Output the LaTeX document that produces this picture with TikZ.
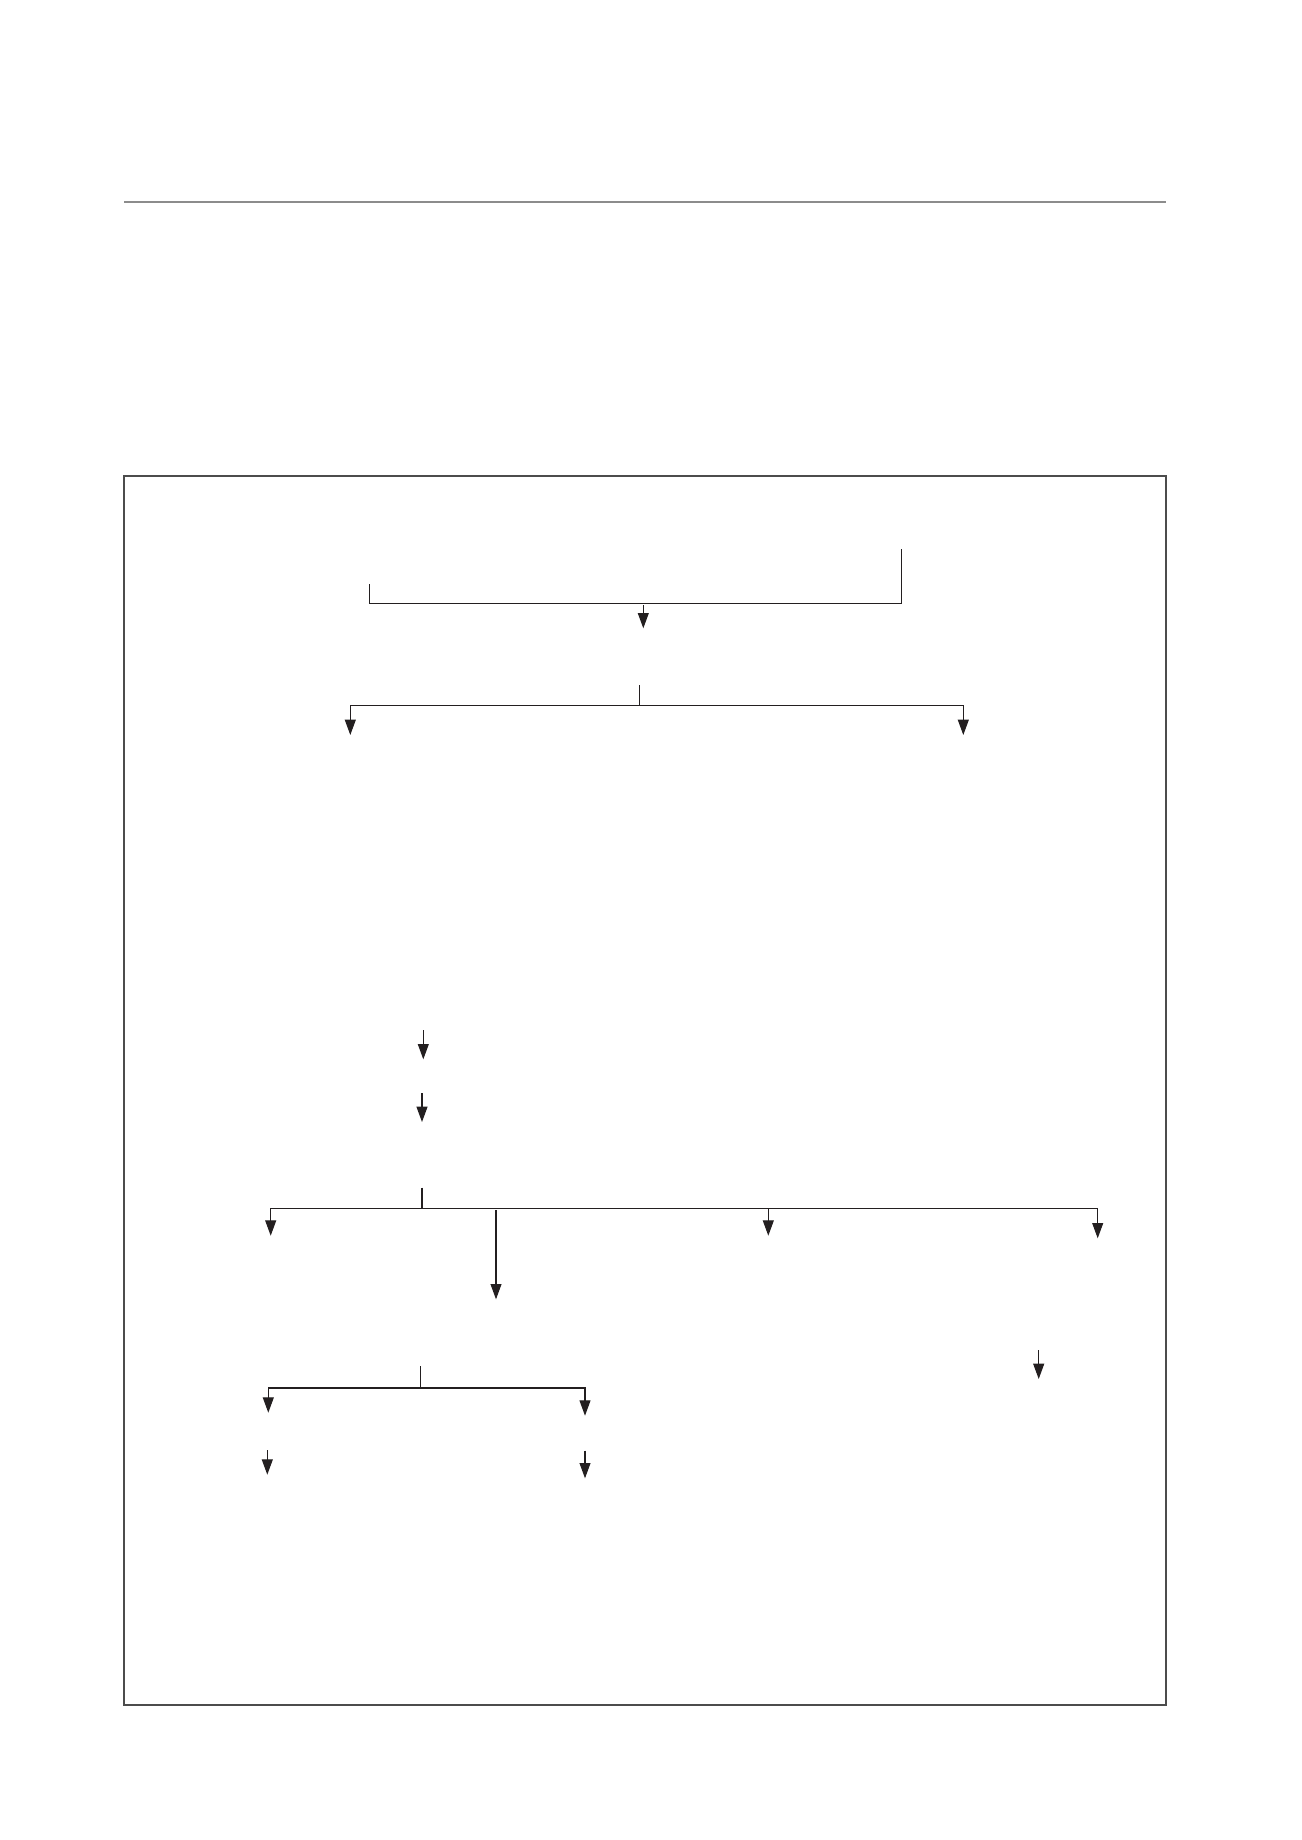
\documentclass[tikz,border=0pt]{standalone}
\usepackage{tikz}
\usetikzlibrary{arrows.meta}
\definecolor{ink}{HTML}{231F20}
\tikzset{
  link/.style={draw=ink, line width=0.5pt},
  flow/.style={link, -{Triangle[length=7pt, width=5pt]}},
}

\begin{document}
\begin{tikzpicture}[x=0.4576pt, y=-0.4576pt]
\useasboundingbox (0,0) rectangle (1301,1840);
\draw[black!45, line width=0.9pt] (124,201.7) -- (1166,201.7);
\draw[black!70, line width=0.9pt] (124,475.7) rectangle (1166,1705.3);

\coordinate (topL) at (369.7,584);
\coordinate (topLb) at (369.7,603.3);
\coordinate (topR) at (901.3,549);
\coordinate (topRb) at (901.3,603.3);
\coordinate (topOut) at (643.3,605.3);
\coordinate (topEnd) at (643.3,628.3);
\draw[link] (topL) -- (topLb) -- (topRb) -- (topR);
\draw[flow] (topOut) -- (topEnd);

\coordinate (splitA) at (639.3,685.3);
\coordinate (splitAb) at (639.3,705.3);
\coordinate (leftA) at (350.3,735);
\coordinate (rightA) at (963.3,735);
\draw[link] (splitA) -- (splitAb);
\draw[flow] (splitAb) -| (leftA);
\draw[flow] (splitAb) -| (rightA);

\coordinate (stepOne) at (423.3,1030);
\coordinate (stepOneb) at (423.3,1059.3);
\coordinate (stepTwo) at (422,1093.3);
\coordinate (stepTwob) at (422,1122);
\draw[flow] (stepOne) -- (stepOneb);
\draw[flow] (stepTwo) -- (stepTwob);

\coordinate (splitB) at (422,1187.7);
\coordinate (splitBb) at (422,1208.3);
\coordinate (outB1) at (270.7,1235.7);
\coordinate (outB3) at (768.3,1235.7);
\coordinate (outB4) at (1097.7,1238.3);
\coordinate (longB) at (496,1210);
\coordinate (longBb) at (496,1299.3);
\draw[link] (splitB) -- (splitBb);
\draw[flow] (splitBb) -| (outB1);
\draw[flow] (splitBb) -| (outB3);
\draw[flow] (splitBb) -| (outB4);
\draw[flow] (longB) -- (longBb);

\coordinate (sideArr) at (1038.7,1350);
\coordinate (sideArrb) at (1038.7,1379);
\draw[flow] (sideArr) -- (sideArrb);

\coordinate (splitC) at (420.7,1366);
\coordinate (splitCb) at (420.7,1388);
\coordinate (outC1) at (268.3,1412.7);
\coordinate (outC2) at (585,1415.7);
\draw[link] (splitC) -- (splitCb);
\draw[flow] (splitCb) -| (outC1);
\draw[flow] (splitCb) -| (outC2);

\coordinate (lastL) at (267.3,1450);
\coordinate (lastLb) at (267.3,1474.7);
\coordinate (lastR) at (585,1450.7);
\coordinate (lastRb) at (585,1478.3);
\draw[flow] (lastL) -- (lastLb);
\draw[flow] (lastR) -- (lastRb);

\end{tikzpicture}
\end{document}
